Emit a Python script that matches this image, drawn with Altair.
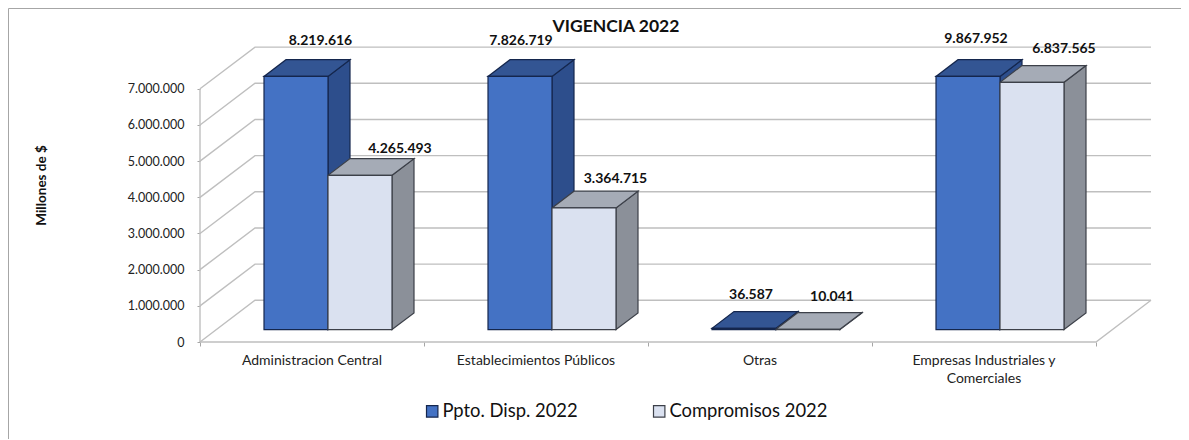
import altair as alt
import pandas as pd

categories = ["Administracion Central", "Establecimientos Públicos", "Otras",
              "Empresas Industriales y\nComerciales"]
series_names = ["Ppto. Disp. 2022", "Compromisos 2022"]
ppto = [8219616, 7826719, 36587, 9867952]
compromisos = [4265493, 3364715, 10041, 6837565]
y_ticks = [0, 1000000, 2000000, 3000000, 4000000, 5000000, 6000000, 7000000]
# manual nudges of the data labels in pixels (as placed by hand in the original)
nudge_ppto = [(13.5, -19), (-10, -18.4), (-4, -17), (-3, -21)]
nudge_comp = [(29, -10), (20.5, -12), (13, -16), (21, -17)]

FONT = "Lato"
W, H = 951, 295                 # plot area in px
PX_CAT = 224.0                  # px per category
PX_UNIT = 36.17 / 1e6           # px per peso-unit
CAP = 7000000                   # bars are cut at the top of the axis
def dxc(px): return px / PX_CAT
def dyv(px): return px / PX_UNIT

X_SCALE = alt.Scale(domain=[0, W / PX_CAT], nice=False, zero=False)
Y_SCALE = alt.Scale(domain=[0, H / PX_UNIT], nice=False, zero=False)
WALL_DX, WALL_DY = dxc(55), dyv(41.7)
BAR_GAP, BAR_W = dxc(64), dxc(64)
BASE = dyv(12.4)
DEPTH_X, DEPTH_Y = dxc(22), dyv(16.7)

X_AXIS = alt.Axis(values=list(range(len(categories) + 1)), labels=False, title=None,
                  domain=False, grid=False, ticks=True, tickSize=4, tickColor="#a6a6a6")
Y_AXIS = alt.Axis(values=y_ticks, title="Millones de $", titleFont=FONT, titleFontSize=13.5,
                  titleFontWeight="bold", titleColor="#111111", titleX=-152, titleY=138,
                  titleAngle=270, domain=False, grid=False, tickSize=3, tickColor="#a6a6a6",
                  labelFont=FONT, labelFontSize=12.5, labelColor="#222222", labelPadding=13,
                  labelExpr="replace(format(datum.value, ','), /,/g, '.')")

def X(field="x"):
    return alt.X(f"{field}:Q", scale=X_SCALE, axis=X_AXIS)
def Y(field="y"):
    return alt.Y(f"{field}:Q", scale=Y_SCALE, axis=Y_AXIS)

# ---- walls
grid_rows = []
for v in y_ticks:
    grid_rows += [dict(k=v, x=0, y=v), dict(k=v, x=WALL_DX, y=v + WALL_DY),
                  dict(k=v, x=len(categories) + WALL_DX, y=v + WALL_DY)]
grid_rows += [dict(k="front", x=0, y=0), dict(k="front", x=len(categories), y=0),
              dict(k="front", x=len(categories) + WALL_DX, y=WALL_DY),
              dict(k="left", x=0, y=0), dict(k="left", x=0, y=CAP)]
grid = alt.Chart(pd.DataFrame(grid_rows)).mark_line(color="#bfbfbf", strokeWidth=1.4).encode(
    x=X(), y=Y(), detail="k:N")

# ---- bars
fronts, sides, tops, labels = [], [], [], []
for s, (name, vals, nudges) in enumerate(zip(series_names, [ppto, compromisos], [nudge_ppto, nudge_comp])):
    for i, v in enumerate(vals):
        h = min(v, CAP)
        x0 = i + BAR_GAP + s * BAR_W
        x1 = x0 + BAR_W
        b, t = BASE, BASE + h
        key = f"{s}-{i}"
        fronts.append(dict(series=name, x=x0, x2=x1, y=b, y2=t))
        sides += [dict(s=s, k=key, x=x1, y=b, y2=t),
                  dict(s=s, k=key, x=x1 + DEPTH_X, y=b + DEPTH_Y, y2=t + DEPTH_Y)]
        tops += [dict(s=s, k=key, x=x0, y=t, y2=t),
                 dict(s=s, k=key, x=x0 + DEPTH_X, y=t, y2=t + DEPTH_Y),
                 dict(s=s, k=key, x=x1, y=t, y2=t + DEPTH_Y),
                 dict(s=s, k=key, x=x1 + DEPTH_X, y=t + DEPTH_Y, y2=t + DEPTH_Y)]
        labels.append(dict(x=(x0 + x1) / 2 + DEPTH_X / 2 + dxc(nudges[i][0]),
                           y=t + DEPTH_Y - dyv(nudges[i][1]),
                           t=format(v, ",").replace(",", ".")))
sides, tops = pd.DataFrame(sides), pd.DataFrame(tops)

face_styles = [
    dict(side="#2d4e8c", top="#335593", stroke="#14264d"),
    dict(side="#8b9099", top="#a5abb6", stroke="#3c4049"),
]
face_layers = []
for s, st in enumerate(face_styles):
    for df, col in ((sides, "side"), (tops, "top")):
        face_layers.append(
            alt.Chart(df[df.s == s]).mark_area(fill=st[col], stroke=st["stroke"], strokeWidth=1.2,
                                                opacity=1, interpolate="linear").encode(
                x=X(), y=Y(), y2=alt.Y2("y2:Q"), detail="k:N"))

LEGEND = alt.Legend(title=None, orient="none", legendX=223, legendY=355,
                    direction="horizontal", columns=2, columnPadding=72,
                    symbolType="square", symbolSize=130, symbolStrokeWidth=1.2,
                    symbolOpacity=1, labelFont=FONT, labelFontSize=18.4,
                    labelColor="#111111", labelOffset=1)
front = alt.Chart(pd.DataFrame(fronts)).mark_rect(strokeWidth=1.2).encode(
    x=X(), x2=alt.X2("x2:Q"), y=Y(), y2=alt.Y2("y2:Q"),
    fill=alt.Fill("series:N", sort=series_names,
                  scale=alt.Scale(domain=series_names, range=["#4472c4", "#dae1f0"]), legend=LEGEND),
    stroke=alt.Stroke("series:N", sort=series_names,
                      scale=alt.Scale(domain=series_names, range=["#14264d", "#3c4049"]), legend=LEGEND),
)

value_labels = alt.Chart(pd.DataFrame(labels)).mark_text(
    font=FONT, fontSize=14, fontWeight="bold", color="#111111", baseline="middle", align="center"
).encode(x=X(), y=Y(), text="t:N")

cat_df = pd.DataFrame(dict(c=categories, x=[i + 0.5 for i in range(len(categories))], y=[0] * len(categories)))
cat_labels = alt.Chart(cat_df).mark_text(
    font=FONT, fontSize=14, color="#222222", baseline="top", align="center",
    lineBreak="\n", lineHeight=18, dy=12
).encode(x=X(), y=Y(), text="c:N")

frame_left = alt.Chart(pd.DataFrame({"a": [0]})).mark_rule(color="#a6a6a6", strokeWidth=1).encode(
    x=alt.value(-191.5), y=alt.value(-38.5), y2=alt.value(392))
frame_top = alt.Chart(pd.DataFrame({"a": [0]})).mark_rule(color="#a6a6a6", strokeWidth=1).encode(
    x=alt.value(-191.5), x2=alt.value(981), y=alt.value(-38.5))
title = alt.Chart(pd.DataFrame({"t": ["VIGENCIA 2022"]})).mark_text(
    font=FONT, fontSize=17.5, fontWeight="bold", color="#111111", baseline="middle", align="center"
).encode(x=alt.value(416), y=alt.value(-20), text="t:N")

chart = alt.layer(
    frame_left, frame_top, grid, *face_layers, front, value_labels, cat_labels, title
).properties(
    width=W, height=H,
    padding={"left": 192, "top": 39, "right": 30, "bottom": 97},
    autosize=alt.AutoSizeParams(type="none"),
    background="white",
).configure_view(stroke=None)

chart.save("out.html", embed_options={"renderer": "svg", "actions": False})
